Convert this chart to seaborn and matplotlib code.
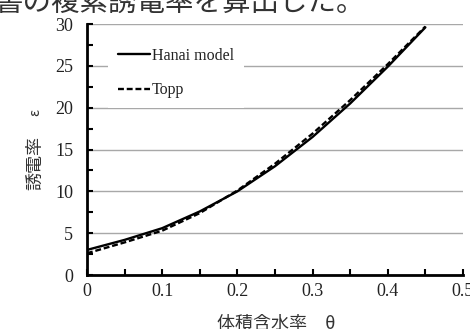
import matplotlib
matplotlib.use("Agg")
import matplotlib.pyplot as plt
from matplotlib.ticker import MultipleLocator
import seaborn as sns
import pandas as pd

# Volumetric water content and permittivity from the two models
theta = [0.0, 0.05, 0.10, 0.15, 0.20, 0.25, 0.30, 0.35, 0.40, 0.45]
eps_hanai = [3.0, 4.2, 5.6, 7.6, 10.0, 13.0, 16.5, 20.5, 24.9, 29.6]
eps_topp = [2.6, 3.9, 5.3, 7.4, 10.1, 13.3, 16.9, 20.9, 25.2, 29.7]
series_names = ["Hanai model", "Topp"]

x_ticks = [0, 0.1, 0.2, 0.3, 0.4, 0.5]
x_tick_labels = ["0", "0.1", "0.2", "0.3", "0.4", "0.5"]
y_ticks = [0, 5, 10, 15, 20, 25, 30]

df = pd.DataFrame({
    "theta": theta * 2,
    "eps": eps_hanai + eps_topp,
    "model": [series_names[0]] * len(theta) + [series_names[1]] * len(theta),
})

sns.set_style("white")
plt.rcParams["font.family"] = ["Liberation Serif", "DejaVu Serif"]

fig = plt.figure(figsize=(4.70, 3.29), dpi=100)
ax = fig.add_axes([0.185, 0.164, 0.800, 0.763])

sns.lineplot(
    data=df, x="theta", y="eps", style="model", ax=ax,
    color="black", linewidth=1.7,
    dashes={series_names[0]: "", series_names[1]: (2.5, 1.2)},
    legend=True,
)

ax.set_xlim(0, 0.5)
ax.set_ylim(0, 30)
ax.set_xticks(x_ticks)
ax.set_xticklabels(x_tick_labels)
ax.set_yticks(y_ticks)
ax.xaxis.set_minor_locator(MultipleLocator(0.05))
ax.yaxis.set_minor_locator(MultipleLocator(2.5))

ax.yaxis.grid(True, color="#a8a8a8", linewidth=1.0)
ax.xaxis.grid(False)
ax.set_axisbelow(True)

for side in ("top", "right"):
    ax.spines[side].set_visible(False)
for side in ("left", "bottom"):
    ax.spines[side].set_color("black")
    ax.spines[side].set_linewidth(2.0)

ax.tick_params(axis="both", which="both", direction="in", length=4.5,
               width=1.5, color="black", labelsize=13, labelcolor="#222222")
ax.tick_params(axis="y", which="both", pad=10, left=True, right=False)
ax.tick_params(axis="x", which="both", pad=6, bottom=True, top=False)

ax.set_xlabel("")
ax.set_ylabel("")

handles, labels = ax.get_legend_handles_labels()
leg = ax.legend(handles, labels, loc="upper left",
                bbox_to_anchor=(0.035, 0.975), frameon=True,
                facecolor="white", edgecolor="none", framealpha=1.0,
                fancybox=False, handlelength=2.0, handletextpad=0.15,
                labelspacing=1.15, borderpad=0.6, fontsize=11.5)
for t in leg.get_texts():
    t.set_color("#222222")

cjk = ["Noto Sans CJK JP", "DejaVu Sans"]
fig.text(276 / 470, 1 - 315 / 329, "体積含水率　θ", family=cjk,
         fontsize=13, color="#333333", ha="center", va="top")
# vertical axis title: the word and the symbol sit apart
fig.text(35 / 470, 1 - 163 / 329, "誘電率", family=cjk,
         fontsize=13, color="#333333", ha="center", va="center",
         rotation=90)
fig.text(35 / 470, 1 - 112 / 329, "ε", family=cjk,
         fontsize=10, color="#333333", ha="center", va="center",
         rotation=90)
fig.text(-0.012, 1 - 18 / 329, "書の複素誘電率を算出した。", family=cjk,
         fontsize=20.5, color="#333333", ha="left", va="bottom")

fig.savefig("out.png", dpi=100, facecolor="white")
